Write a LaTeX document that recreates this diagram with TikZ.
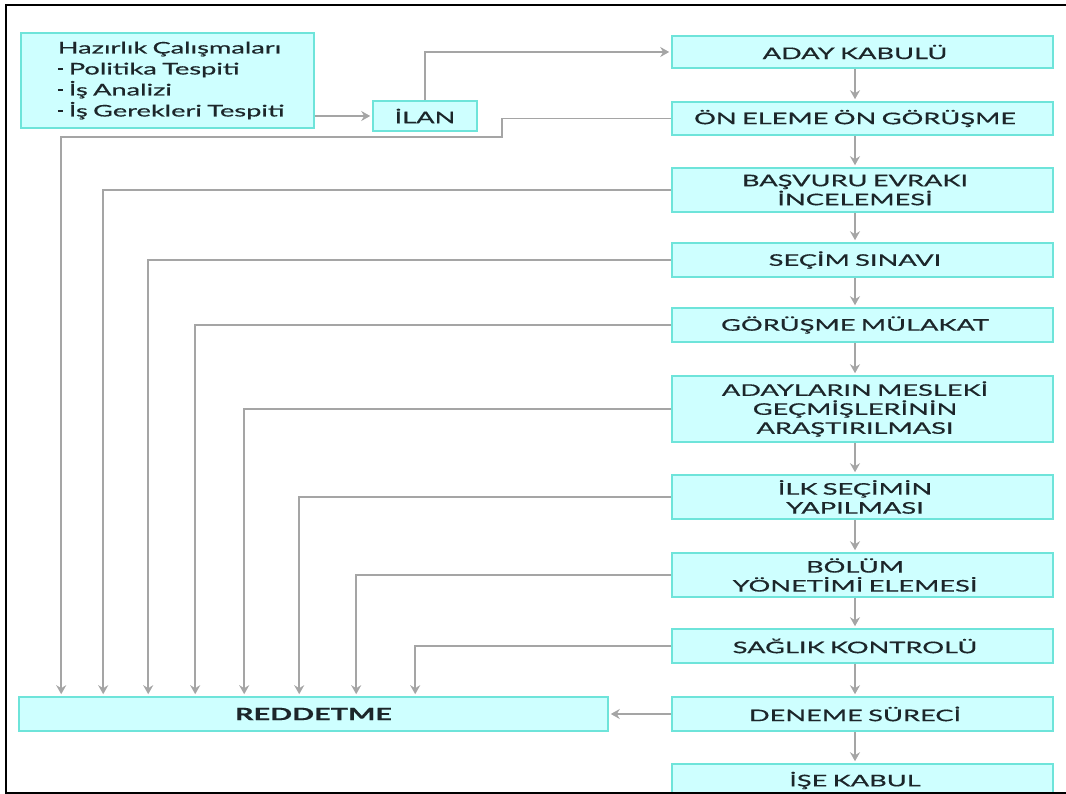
\documentclass[tikz,border=0pt]{standalone}
\usepackage{fontspec}
\setmainfont{Lato}[FakeStretch=1.7,FakeBold=0.6]
\usetikzlibrary{arrows.meta}
\definecolor{boxfill}{RGB}{206,255,255}
\definecolor{boxline}{RGB}{110,228,218}
\definecolor{lncol}{RGB}{165,165,165}
\definecolor{ink}{RGB}{28,38,42}
\newcommand\sh{\hspace*{-15pt}}
\newcommand\bul{\raisebox{4pt}{\rule{5pt}{2.6pt}}\hspace{6pt}}
\begin{document}
\begin{tikzpicture}[x=1pt,y=-1pt,
  basebox/.style={draw=boxline, line width=1.6pt, fill=boxfill, text=ink, inner sep=0pt,
    font=\fontsize{16}{19}\selectfont},
  stepbox/.style={basebox, minimum width=381pt, text width=370pt, align=center},
  conn/.style={draw=lncol, line width=1.5pt, shorten >=2pt,
    -{Stealth[length=9pt,width=10pt,inset=3pt]}},
]
\clip (0,0) rectangle (1066,794);
\fill[white] (0,0) rectangle (1066,794);

% left preparation box and announcement
\node[basebox, anchor=west, align=left, text width=219pt, inner xsep=37pt,
  minimum height=95pt, font=\fontsize{16}{21}\selectfont] (hz) at (20,80.5)
  {\mbox{Hazırlık Çalışmaları}\\\mbox{\bul Politika Tespiti}\\\mbox{\bul İş Analizi}\\\mbox{\bul İş Gerekleri Tespiti}};
\node[basebox, minimum width=104pt, minimum height=30pt] (ilan) at (425,116) {İLAN};

% main column
\node[stepbox, minimum height=32pt] (ad) at (862.5,52) {\sh ADAY KABULÜ};
\node[stepbox, minimum height=33pt] (on) at (862.5,118.5) {\sh ÖN ELEME ÖN GÖRÜŞME};
\node[stepbox, minimum height=44pt] (bs) at (862.5,190) {\sh BAŞVURU EVRAKI\\\sh İNCELEMESİ};
\node[stepbox, minimum height=34pt] (sc) at (862.5,260) {\sh SEÇİM SINAVI};
\node[stepbox, minimum height=34pt] (gr) at (862.5,325) {\sh GÖRÜŞME MÜLAKAT};
\node[stepbox, minimum height=66pt] (ar) at (862.5,409) {\sh ADAYLARIN MESLEKİ\\\sh GEÇMİŞLERİNİN\\\sh ARAŞTIRILMASI};
\node[stepbox, minimum height=44pt] (ik) at (862.5,497) {\sh İLK SEÇİMİN\\\sh YAPILMASI};
\node[stepbox, minimum height=44pt] (bo) at (862.5,575) {\sh BÖLÜM\\\sh YÖNETİMİ ELEMESİ};
\node[stepbox, minimum height=34pt] (sa) at (862.5,646) {\sh SAĞLIK KONTROLÜ};
\node[stepbox, minimum height=34pt] (de) at (862.5,714) {\sh DENEME SÜRECİ};
\node[stepbox, minimum height=33pt] (is) at (862.5,780.5) {\sh İŞE KABUL};

% reject box
\node[stepbox, minimum width=589pt, text width=580pt, minimum height=34pt,
  font=\fontsize{17}{19}\selectfont\bfseries] (rej) at (313.5,714) {REDDETME};

% connectors
\draw[conn] (hz.east |- ilan.west) -- (ilan.west);
\draw[conn] (ilan.north) |- (ad.west);
\foreach \a/\b in {ad/on,on/bs,bs/sc,sc/gr,gr/ar,ar/ik,ik/bo,bo/sa,sa/de,de/is}
  \draw[conn] ([xshift=-7.5pt]\a.south) -- ([xshift=-7.5pt]\b.north);

\draw[conn] (on.west) -| (502,137) -| ([xshift=43pt]rej.north west);
\draw[conn] (bs.west) -| ([xshift=85pt]rej.north west);
\draw[conn] (sc.west) -| ([xshift=130pt]rej.north west);
\draw[conn] (gr.west) -| ([xshift=177pt]rej.north west);
\draw[conn] (ar.west) -| ([xshift=226pt]rej.north west);
\draw[conn] (ik.west) -| ([xshift=281pt]rej.north west);
\draw[conn] (bo.west) -| ([xshift=338pt]rej.north west);
\draw[conn] (sa.west) -| ([xshift=397pt]rej.north west);
\draw[conn] (de.west) -- (rej.east);

% frame
\draw[line width=2.5pt] (1066,5) -- (6,5) -- (6,793) -- (1066,793);
\end{tikzpicture}
\end{document}
